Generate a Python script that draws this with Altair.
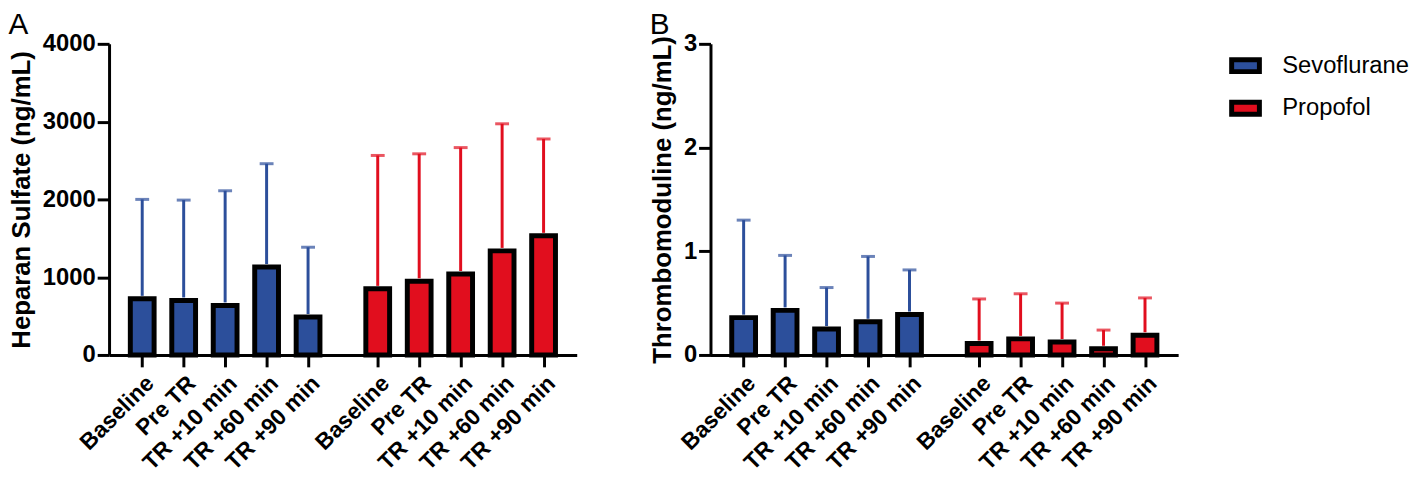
import json
import altair as alt
import pandas as pd

# ---------------- data ----------------
timepoints = ["Baseline", "Pre TR", "TR +10 min", "TR +60 min", "TR +90 min"]
groups = ["Sevoflurane", "Propofol"]
colors = ["#2C4F9B", "#E10E1E"]

# Panel A: Heparan Sulfate (ng/mL) - mean and upper end of error bar
hs_sevo = [722, 701, 637, 1130, 488]
hs_sevo_upper = [2000, 1991, 2111, 2459, 1385]
hs_prop = [850, 947, 1041, 1338, 1532]
hs_prop_upper = [2565, 2586, 2666, 2972, 2777]

# Panel B: Thrombomoduline (ng/mL)
tm_sevo = [0.36, 0.43, 0.25, 0.32, 0.39]
tm_sevo_upper = [1.30, 0.96, 0.65, 0.95, 0.82]
tm_prop = [0.11, 0.155, 0.125, 0.06, 0.19]
tm_prop_upper = [0.54, 0.59, 0.50, 0.24, 0.55]

GAP = 0.68          # extra space between the two groups (in bar steps)
PAD = 0.68          # space at the ends of the axis (in bar steps)
N = len(timepoints)
RED_START = N + GAP

def make_df(sevo, sevo_up, prop, prop_up):
    rows = []
    for gi, (g, vals, ups) in enumerate([(groups[0], sevo, sevo_up), (groups[1], prop, prop_up)]):
        for i, (t, v, u) in enumerate(zip(timepoints, vals, ups)):
            rows.append({"group": g, "time": t, "pos": i + gi * RED_START,
                         "mean": v, "upper": u})
    return pd.DataFrame(rows)

positions = [i + gi * RED_START for gi in range(2) for i in range(N)]
label_expr = (json.dumps(timepoints).replace('"', "'")
              + f"[round(datum.value >= {N - 0.5} ? datum.value - {RED_START} : datum.value)]")

FONT = "Liberation Sans"
cscale = alt.Scale(domain=groups, range=colors)


def legend_layer():
    """Legend drawn as marks: black-outlined swatches with group names."""
    ldf = pd.DataFrame({"group": groups})
    ly = alt.Y("group:N", scale=alt.Scale(domain=groups, range=[22, 65], padding=0), axis=None)
    sym = alt.Chart(ldf).mark_point(
        shape="M-1,-0.43L1,-0.43L1,0.43L-1,0.43Z", size=784, filled=True,
        stroke="black", strokeWidth=5, opacity=1, strokeOpacity=1,
    ).encode(x=alt.value(540), y=ly, fill=alt.Fill("group:N", scale=cscale, legend=None))
    txt = alt.Chart(ldf).mark_text(
        align="left", baseline="middle", font=FONT, fontSize=24, color="black",
    ).encode(x=alt.value(577), y=ly, text="group:N")
    return alt.layer(sym, txt)


def panel(df, ymax, yvalues, ytitle, letter, show_legend):
    xdomain = [-PAD, RED_START + N - 1 + PAD]
    x = alt.X("pos:Q",
              scale=alt.Scale(domain=xdomain, nice=False, zero=False),
              axis=alt.Axis(values=positions, labelExpr=label_expr, labelAngle=-45,
                            labelOverlap=False, title=None, grid=False,
                            labelFontSize=23, labelPadding=5))
    yaxis = alt.Axis(values=yvalues, title=ytitle, grid=False, titlePadding=8, format="d")
    yscale = alt.Scale(domain=[0, ymax], nice=False)
    color = alt.Color("group:N", scale=cscale, legend=None)
    base = alt.Chart(df)
    bars = base.mark_bar(size=24, stroke="black", strokeWidth=5, opacity=1).encode(
        x=x, y=alt.Y("mean:Q", scale=yscale, axis=yaxis), color=color)
    rule = base.mark_rule(strokeWidth=3, y2Offset=-3).encode(
        x=x, y=alt.Y("upper:Q", scale=yscale, axis=yaxis), y2="mean:Q", color=color)
    cap = base.mark_tick(orient="horizontal", size=14, thickness=3).encode(
        x=x, y=alt.Y("upper:Q", scale=yscale, axis=yaxis), color=color)
    main = alt.layer(bars, rule, cap)
    if show_legend:
        main = alt.layer(main, legend_layer()).resolve_scale(y="independent")
    return main.properties(
        width=472, height=314,
        title=alt.TitleParams(letter, anchor="start", frame="bounds", fontSize=30,
                              font=FONT, fontWeight="normal", color="black", offset=-8),
    )


dfA = make_df(hs_sevo, hs_sevo_upper, hs_prop, hs_prop_upper)
dfB = make_df(tm_sevo, tm_sevo_upper, tm_prop, tm_prop_upper)

pA = panel(dfA, 4000, [0, 1000, 2000, 3000, 4000], "Heparan Sulfate (ng/mL)", "A", False)
pB = panel(dfB, 3, [0, 1, 2, 3], "Thrombomoduline (ng/mL)", "B", True)

chart = (
    alt.hconcat(pA, pB, spacing=73)
    .properties(padding={"left": 0, "top": 0, "right": 0, "bottom": 0})
    .configure_view(stroke=None)
    .configure_axis(
        domainColor="black", domainWidth=3, tickColor="black", tickWidth=3, tickSize=12,
        labelFont=FONT, labelFontWeight="bold", labelFontSize=24, labelColor="black",
        titleFont=FONT, titleFontWeight="bold", titleFontSize=26, titleColor="black",
    )
)

chart.save("out.html", embed_options={"renderer": "svg", "actions": False})
